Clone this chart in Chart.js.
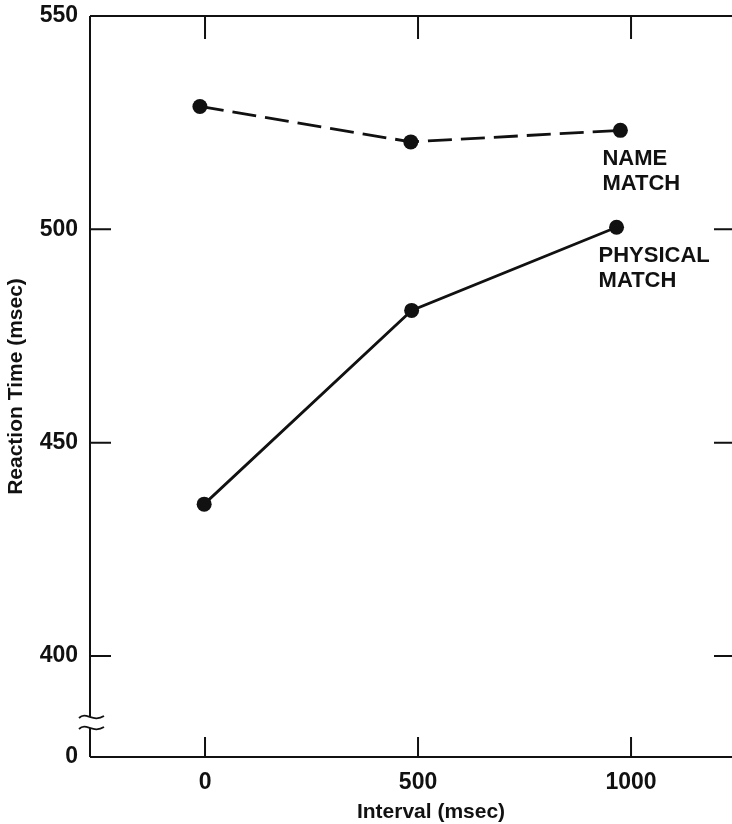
<!DOCTYPE html>
<html>
<head>
<meta charset="utf-8">
<script src="https://cdn.jsdelivr.net/npm/chart.js@4/dist/chart.umd.min.js"></script>
<style>
  html, body { margin: 0; padding: 0; background: #fff; overflow: hidden; }
  #wrap { width: 732px; height: 824px; }
</style>
</head>
<body>
<div id="wrap"><canvas id="c" width="732" height="824"></canvas></div>
<script>
// ---- data ----
const intervalTicks = [0, 500, 1000];            // x tick values (msec)
const reactionTicks = [400, 450, 500, 550];      // y tick values (msec)
const breakLabel = '0';                          // label at the broken axis bottom
const nameMatchX = [-12, 483, 975];              // plotted interval positions
const nameMatchRT = [528.8, 520.5, 523.2];       // reaction time, name match
const physicalMatchX = [-2, 485, 966];
const physicalMatchRT = [435.6, 481.0, 500.5];   // reaction time, physical match
const seriesNotes = [['NAME', 'MATCH'], ['PHYSICAL', 'MATCH']];
const xTitle = 'Interval (msec)';
const yTitle = 'Reaction Time (msec)';

const X_MIN = -270, X_MAX = 1237;
const Y_MIN = 376.34, Y_MAX = 550;
const INK = '#111';
const FONT = '"Liberation Sans", Arial, Helvetica, sans-serif';

const toPts = (xs, ys) => xs.map((x, i) => ({ x: x, y: ys[i] }));
const noPad = s => { s.paddingTop = 0; s.paddingBottom = 0; s.paddingLeft = 0; s.paddingRight = 0; };

const framePlugin = {
  id: 'frame',
  beforeDatasetsDraw(chart) {
    const { ctx, chartArea: a, scales: { x, y } } = chart;
    ctx.save();
    ctx.strokeStyle = INK;
    ctx.lineWidth = 2;
    ctx.lineCap = 'butt';
    ctx.beginPath();
    // top & bottom
    ctx.moveTo(a.left, a.top); ctx.lineTo(a.right, a.top);
    ctx.moveTo(a.left, a.bottom); ctx.lineTo(a.right, a.bottom);
    // left with a break near the bottom
    const bTop = a.bottom - 40, bBot = a.bottom - 29;
    ctx.moveTo(a.left, a.top); ctx.lineTo(a.left, bTop);
    ctx.moveTo(a.left, bBot); ctx.lineTo(a.left, a.bottom);
    // inward ticks
    reactionTicks.forEach(v => {
      if (v >= Y_MAX) return;
      const py = y.getPixelForValue(v);
      ctx.moveTo(a.left, py); ctx.lineTo(a.left + 21, py);
      ctx.moveTo(a.right - 18, py); ctx.lineTo(a.right, py);
    });
    intervalTicks.forEach(v => {
      const px = x.getPixelForValue(v);
      ctx.moveTo(px, a.bottom); ctx.lineTo(px, a.bottom - 20);
      ctx.moveTo(px, a.top); ctx.lineTo(px, a.top + 23);
    });
    ctx.stroke();
    // break squiggles
    ctx.lineWidth = 1.8;
    [bTop, bBot].forEach(yy => {
      ctx.beginPath();
      ctx.moveTo(a.left - 11, yy + 1);
      ctx.bezierCurveTo(a.left - 4, yy - 6, a.left + 3, yy + 6, a.left + 14, yy - 1);
      ctx.stroke();
    });
    ctx.restore();
  },
  afterDatasetsDraw(chart) {
    const { ctx, chartArea: a } = chart;
    ctx.save();
    ctx.fillStyle = INK;
    ctx.font = 'bold 22px ' + FONT;
    ctx.textAlign = 'left';
    ctx.textBaseline = 'alphabetic';
    chart.data.datasets.forEach((ds, i) => {
      const meta = chart.getDatasetMeta(i);
      const last = meta.data[meta.data.length - 1];
      seriesNotes[i].forEach((line, k) => {
        ctx.fillText(line, last.x - 18, last.y + 35 + k * 25);
      });
    });
    // x axis title
    ctx.font = 'bold 21px ' + FONT;
    ctx.textAlign = 'center';
    ctx.fillText(xTitle, (a.left + a.right) / 2 + 20, a.bottom + 61);
    ctx.restore();
  }
};

new Chart(document.getElementById('c'), {
  type: 'line',
  data: {
    datasets: [
      {
        label: 'Name match',
        data: toPts(nameMatchX, nameMatchRT),
        borderColor: INK, backgroundColor: INK,
        borderWidth: 2.8, borderDash: [24, 9],
        pointRadius: 7.5, pointHoverRadius: 7.5, pointBorderWidth: 0,
        tension: 0, fill: false
      },
      {
        label: 'Physical match',
        data: toPts(physicalMatchX, physicalMatchRT),
        borderColor: INK, backgroundColor: INK,
        borderWidth: 2.8,
        pointRadius: 7.5, pointHoverRadius: 7.5, pointBorderWidth: 0,
        tension: 0, fill: false
      }
    ]
  },
  options: {
    responsive: false,
    animation: false,
    devicePixelRatio: 1,
    layout: { autoPadding: false, padding: { top: 16, right: 0, left: 0, bottom: 0 } },
    plugins: { legend: { display: false }, tooltip: { enabled: false } },
    scales: {
      x: {
        type: 'linear', position: 'bottom',
        min: X_MIN, max: X_MAX,
        grid: { display: false, drawTicks: false }, border: { display: false },
        afterBuildTicks: s => { s.ticks = intervalTicks.map(v => ({ value: v })); },
        afterFit: s => { s.height = 67; noPad(s); },
        ticks: {
          autoSkip: false, maxRotation: 0, padding: 12, color: INK,
          font: { family: FONT, size: 23, weight: 'bold' },
          callback: v => String(v)
        },
        title: { display: false }
      },
      y: {
        type: 'linear', position: 'left',
        min: Y_MIN, max: Y_MAX,
        grid: { display: false, drawTicks: false }, border: { display: false },
        afterBuildTicks: s => { s.ticks = [Y_MIN].concat(reactionTicks).map(v => ({ value: v })); },
        afterFit: s => { s.width = 90; noPad(s); },
        ticks: {
          autoSkip: false, padding: 12, color: INK,
          font: { family: FONT, size: 23, weight: 'bold' },
          callback: v => (v === Y_MIN ? breakLabel : String(v))
        },
        title: {
          display: true, text: yTitle, color: INK, padding: { top: 4, bottom: 0 },
          font: { family: FONT, size: 21, weight: 'bold' }
        }
      }
    }
  },
  plugins: [framePlugin]
});
</script>
</body>
</html>
